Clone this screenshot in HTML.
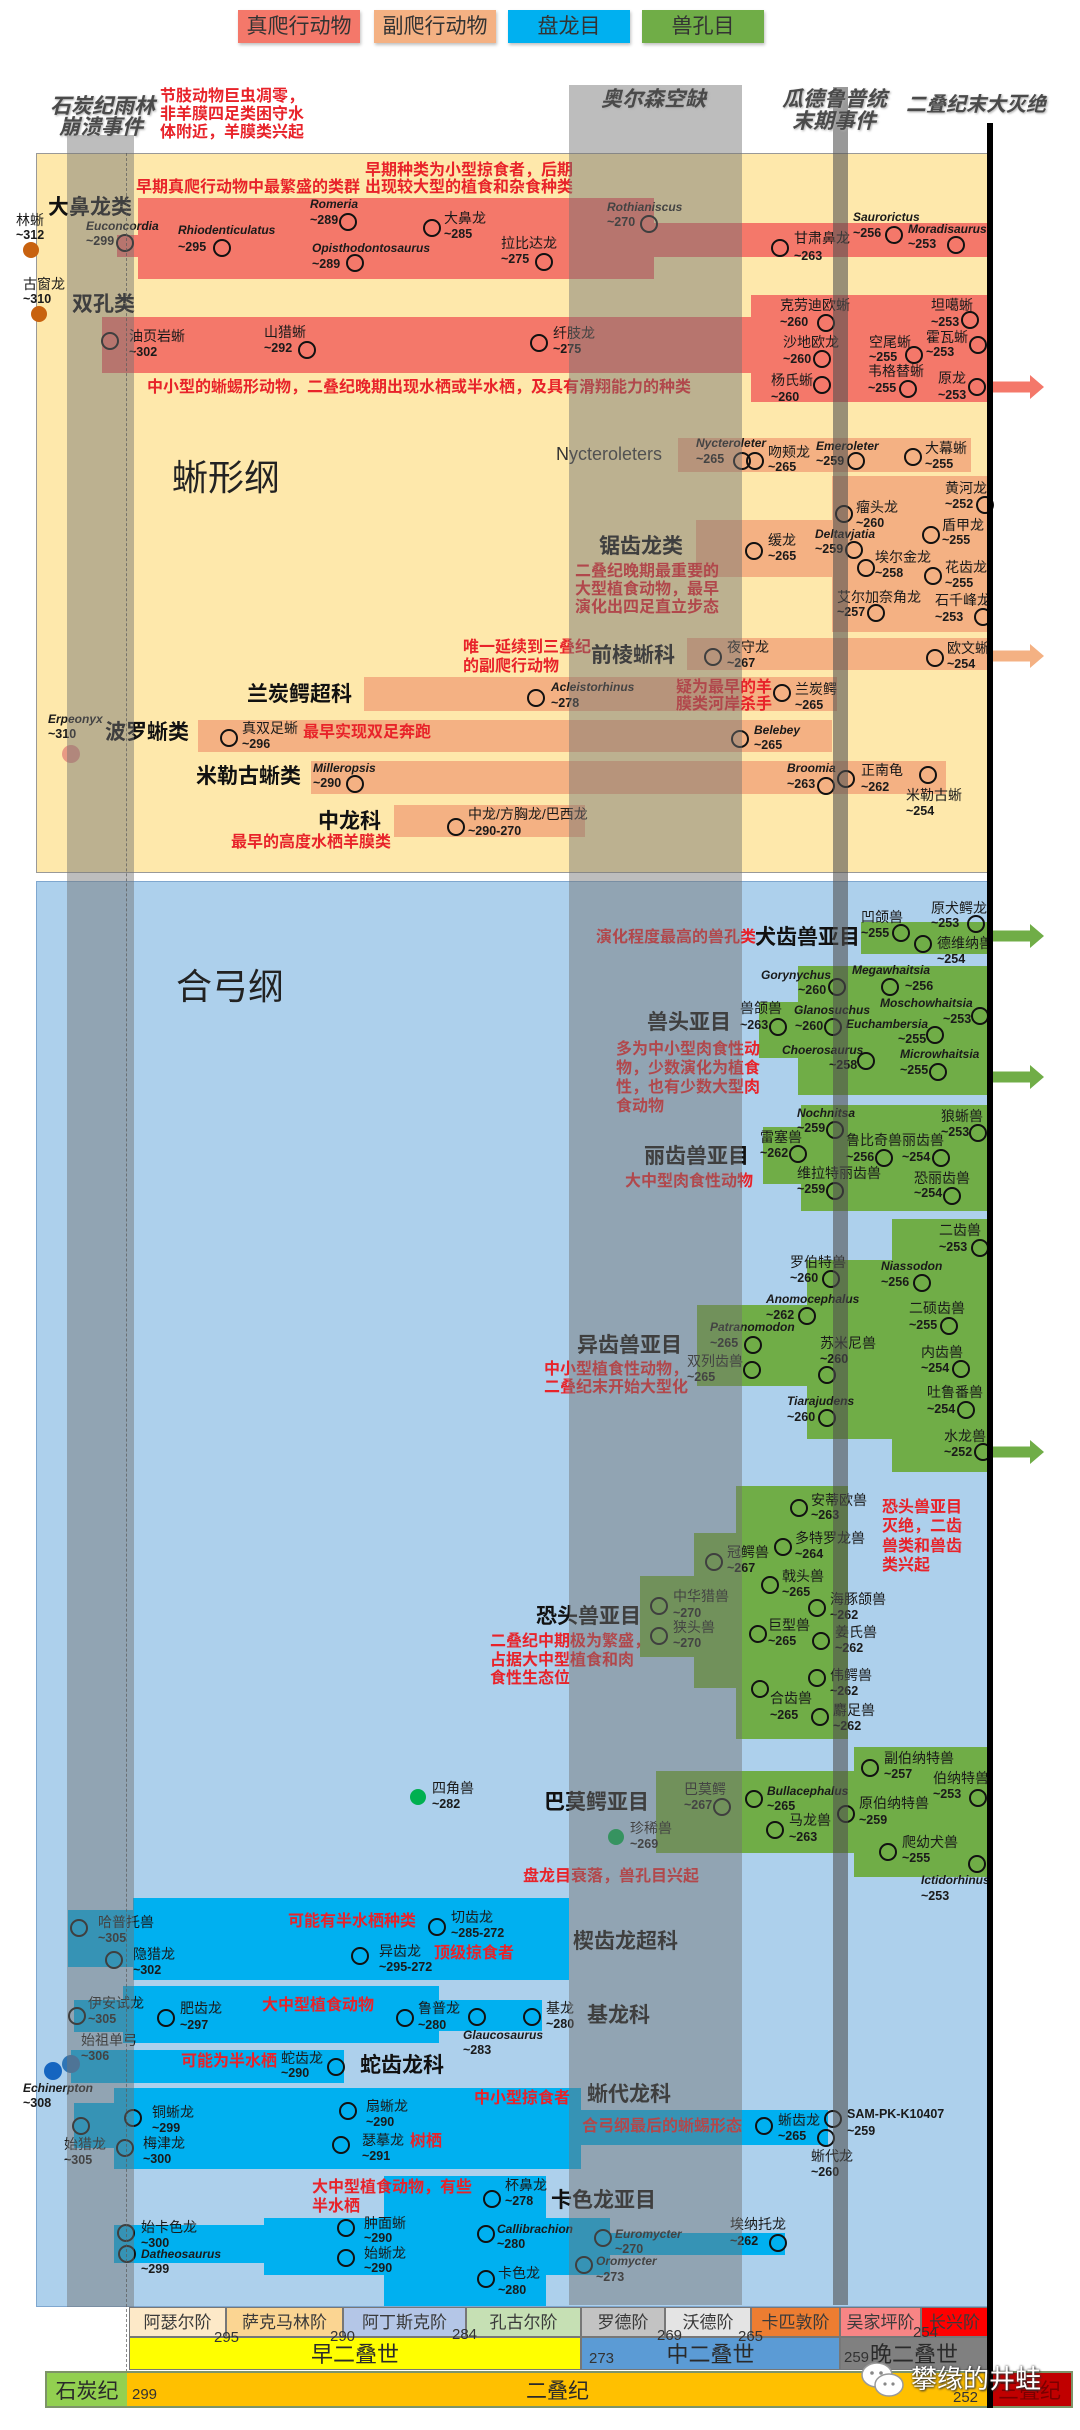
<!DOCTYPE html>
<html><head><meta charset="utf-8">
<style>
*{margin:0;padding:0}
html,body{width:1080px;height:2430px}
body{position:relative;background:#fff;font-family:"Liberation Sans","Noto Sans CJK SC",sans-serif;overflow:hidden}
.a{position:absolute}
.R{position:absolute;background:#f4786a}
.P{position:absolute;background:#f4b183}
.G{position:absolute;background:#70ad47}
.B{position:absolute;background:#00b0f0}
.t{position:absolute;font-size:14px;line-height:16px;white-space:nowrap;color:#1a1a1a}
.i{position:absolute;font-size:12px;line-height:14px;font-style:italic;font-weight:bold;white-space:nowrap;color:#1a1a1a}
.n{position:absolute;font-size:12.5px;line-height:14px;font-weight:bold;white-space:nowrap;color:#1a1a1a}
.c{position:absolute;width:18px;height:18px;border:2.6px solid #111;border-radius:50%;box-sizing:border-box}
.L{position:absolute;font-size:21px;line-height:24px;font-weight:bold;color:#111;white-space:nowrap}
.r{position:absolute;color:#e8232a;font-weight:bold;font-size:16px;line-height:18px;white-space:nowrap}
.ev{position:absolute;font-size:21px;line-height:22px;font-weight:bold;font-style:italic;color:#4a4a4a;text-shadow:1px 1px 2px #aaa;white-space:nowrap}
.dot{position:absolute;border-radius:50%}
.lg{position:absolute;top:10px;height:33px;width:122px;text-align:center;line-height:33px;font-size:21px;color:#333;box-shadow:1px 2px 3px rgba(0,0,0,.25)}
.st{position:absolute;top:2307px;height:30px;line-height:30px;text-align:center;font-size:17px;color:#3a3a3a;box-sizing:border-box;border:1px solid #777}
.ep{position:absolute;top:2337px;height:33px;line-height:33px;text-align:center;font-size:22px;color:#2a2a2a;box-sizing:border-box;border:1px solid #777}
.pe{position:absolute;top:2371px;height:37px;line-height:37px;text-align:center;font-size:21px;color:#2a2a2a;box-sizing:border-box;border-top:2px solid #7d9468;border-bottom:2px solid #7d9468}
.num{position:absolute;font-size:15px;color:#333;line-height:16px}
.band{position:absolute;background:rgba(115,115,115,0.47)}
</style></head><body>

<!-- Legend -->
<div class="lg" style="left:238px;background:#f4786a">真爬行动物</div>
<div class="lg" style="left:374px;background:#f4b183">副爬行动物</div>
<div class="lg" style="left:508px;background:#00b0f0">盘龙目</div>
<div class="lg" style="left:642px;background:#70ad47">兽孔目</div>

<!-- Panels -->
<div class="a" style="left:36px;top:153px;width:952px;height:720px;background:#fee8ab;border:1px solid #999;box-sizing:border-box"></div>
<div class="a" style="left:36px;top:881px;width:952px;height:1426px;background:#add0ec;border:1px solid #7fa7cf;box-sizing:border-box"></div>

<div class="a" style="left:172px;top:458px;font-size:36px;line-height:40px;color:#222">蜥形纲</div>
<div class="a" style="left:176px;top:967px;font-size:36px;line-height:40px;color:#222">合弓纲</div>

<!-- Sauropsid blocks -->
<div class="R" style="left:138px;top:198px;width:516px;height:81px"></div>
<div class="R" style="left:654px;top:223px;width:334px;height:34px"></div>
<div class="R" style="left:117px;top:235px;width:21px;height:22px"></div>
<div class="R" style="left:102px;top:317px;width:649px;height:56px"></div>
<div class="R" style="left:751px;top:295px;width:237px;height:107px"></div>
<svg class="a" style="left:988px;top:375px" width="56" height="24"><polygon points="0,6.5 42,6.5 42,0 56,12 42,24 42,17.5 0,17.5" fill="#f4786a"/></svg>

<div class="P" style="left:678px;top:438px;width:293px;height:34px"></div>
<div class="P" style="left:832px;top:476px;width:156px;height:156px"></div>
<div class="P" style="left:696px;top:520px;width:136px;height:57px"></div>
<div class="P" style="left:687px;top:638px;width:301px;height:32px"></div>
<svg class="a" style="left:988px;top:644px" width="56" height="24"><polygon points="0,6.5 42,6.5 42,0 56,12 42,24 42,17.5 0,17.5" fill="#f4b183"/></svg>
<div class="P" style="left:364px;top:677px;width:473px;height:34px"></div>
<div class="P" style="left:198px;top:720px;width:634px;height:32px"></div>
<div class="P" style="left:311px;top:761px;width:635px;height:33px"></div>
<div class="P" style="left:394px;top:805px;width:191px;height:32px"></div>

<!-- Synapsid green blocks -->
<div class="G" style="left:861px;top:922px;width:127px;height:32px"></div>
<div class="G" style="left:798px;top:966px;width:190px;height:129px"></div>
<div class="G" style="left:759px;top:1002px;width:39px;height:56px"></div>
<div class="G" style="left:801px;top:1105px;width:187px;height:106px"></div>
<div class="G" style="left:763px;top:1127px;width:38px;height:57px"></div>
<div class="G" style="left:892px;top:1219px;width:96px;height:253px"></div>
<div class="G" style="left:807px;top:1260px;width:85px;height:179px"></div>
<div class="G" style="left:697px;top:1305px;width:110px;height:81px"></div>
<div class="G" style="left:736px;top:1486px;width:112px;height:253px"></div>
<div class="G" style="left:694px;top:1533px;width:42px;height:155px"></div>
<div class="G" style="left:640px;top:1576px;width:54px;height:81px"></div>
<div class="G" style="left:854px;top:1747px;width:134px;height:130px"></div>
<div class="G" style="left:656px;top:1771px;width:198px;height:82px"></div>
<svg class="a" style="left:988px;top:924px" width="56" height="24"><polygon points="0,6.5 42,6.5 42,0 56,12 42,24 42,17.5 0,17.5" fill="#70ad47"/></svg>
<svg class="a" style="left:988px;top:1065px" width="56" height="24"><polygon points="0,6.5 42,6.5 42,0 56,12 42,24 42,17.5 0,17.5" fill="#70ad47"/></svg>
<svg class="a" style="left:988px;top:1440px" width="56" height="24"><polygon points="0,6.5 42,6.5 42,0 56,12 42,24 42,17.5 0,17.5" fill="#70ad47"/></svg>

<!-- Pelycosaur blue blocks -->
<div class="B" style="left:133px;top:1898px;width:436px;height:82px"></div>
<div class="B" style="left:68px;top:1910px;width:65px;height:57px"></div>
<div class="B" style="left:123px;top:1986px;width:316px;height:57px"></div>
<div class="B" style="left:74px;top:2000px;width:49px;height:32px"></div>
<div class="B" style="left:439px;top:2000px;width:103px;height:31px"></div>
<div class="B" style="left:71px;top:2050px;width:273px;height:33px"></div>
<div class="B" style="left:114px;top:2088px;width:467px;height:81px"></div>
<div class="B" style="left:74px;top:2103px;width:40px;height:45px"></div>
<div class="B" style="left:581px;top:2110px;width:247px;height:35px"></div>
<div class="B" style="left:114px;top:2225px;width:150px;height:38px"></div>
<div class="B" style="left:264px;top:2218px;width:120px;height:57px"></div>
<div class="B" style="left:384px;top:2176px;width:162px;height:130px"></div>
<div class="B" style="left:546px;top:2218px;width:64px;height:57px"></div>
<div class="B" style="left:610px;top:2233px;width:175px;height:22px"></div>

<!-- Group labels -->
<div class="L" style="left:48px;top:196px">大鼻龙类</div>
<div class="L" style="left:72px;top:293px">双孔类</div>
<div class="a" style="left:556px;top:443px;font-size:18px;line-height:22px;color:#333">Nycteroleters</div>
<div class="L" style="left:599px;top:535px">锯齿龙类</div>
<div class="L" style="left:591px;top:644px">前棱蜥科</div>
<div class="L" style="left:247px;top:683px">兰炭鳄超科</div>
<div class="L" style="left:105px;top:721px">波罗蜥类</div>
<div class="L" style="left:196px;top:765px">米勒古蜥类</div>
<div class="L" style="left:318px;top:810px">中龙科</div>
<div class="L" style="left:755px;top:926px">犬齿兽亚目</div>
<div class="L" style="left:647px;top:1011px">兽头亚目</div>
<div class="L" style="left:644px;top:1145px">丽齿兽亚目</div>
<div class="L" style="left:577px;top:1334px">异齿兽亚目</div>
<div class="L" style="left:536px;top:1605px">恐头兽亚目</div>
<div class="L" style="left:544px;top:1791px">巴莫鳄亚目</div>
<div class="L" style="left:573px;top:1930px">楔齿龙超科</div>
<div class="L" style="left:587px;top:2004px">基龙科</div>
<div class="L" style="left:360px;top:2054px">蛇齿龙科</div>
<div class="L" style="left:587px;top:2083px">蜥代龙科</div>
<div class="L" style="left:551px;top:2189px">卡色龙亚目</div>

<!-- Red annotations -->
<div class="r" style="left:160px;top:88px">节肢动物巨虫凋零，</div>
<div class="r" style="left:160px;top:106px">非羊膜四足类困守水</div>
<div class="r" style="left:160px;top:124px">体附近，羊膜类兴起</div>
<div class="r" style="left:136px;top:179px">早期真爬行动物中最繁盛的类群</div>
<div class="r" style="left:365px;top:162px">早期种类为小型掠食者，后期</div>
<div class="r" style="left:365px;top:179px">出现较大型的植食和杂食种类</div>
<div class="r" style="left:147px;top:379px">中小型的蜥蜴形动物，二叠纪晚期出现水栖或半水栖，及具有滑翔能力的种类</div>
<div class="r" style="left:575px;top:563px">二叠纪晚期最重要的</div>
<div class="r" style="left:575px;top:581px">大型植食动物，最早</div>
<div class="r" style="left:575px;top:599px">演化出四足直立步态</div>
<div class="r" style="left:463px;top:639px">唯一延续到三叠纪</div>
<div class="r" style="left:463px;top:658px">的副爬行动物</div>
<div class="r" style="left:676px;top:679px">疑为最早的羊</div>
<div class="r" style="left:676px;top:696px">膜类河岸杀手</div>
<div class="r" style="left:303px;top:724px">最早实现双足奔跑</div>
<div class="r" style="left:231px;top:834px">最早的高度水栖羊膜类</div>
<div class="r" style="left:596px;top:929px">演化程度最高的兽孔类</div>
<div class="r" style="left:616px;top:1041px">多为中小型肉食性动</div>
<div class="r" style="left:616px;top:1060px">物，少数演化为植食</div>
<div class="r" style="left:616px;top:1079px">性，也有少数大型肉</div>
<div class="r" style="left:616px;top:1098px">食动物</div>
<div class="r" style="left:625px;top:1173px">大中型肉食性动物</div>
<div class="r" style="left:544px;top:1361px">中小型植食性动物，</div>
<div class="r" style="left:544px;top:1379px">二叠纪末开始大型化</div>
<div class="r" style="left:882px;top:1499px">恐头兽亚目</div>
<div class="r" style="left:882px;top:1518px">灭绝，二齿</div>
<div class="r" style="left:882px;top:1538px">兽类和兽齿</div>
<div class="r" style="left:882px;top:1557px">类兴起</div>
<div class="r" style="left:490px;top:1633px">二叠纪中期极为繁盛，</div>
<div class="r" style="left:490px;top:1652px">占据大中型植食和肉</div>
<div class="r" style="left:490px;top:1670px">食性生态位</div>
<div class="r" style="left:523px;top:1868px">盘龙目衰落，兽孔目兴起</div>
<div class="r" style="left:288px;top:1913px">可能有半水栖种类</div>
<div class="r" style="left:434px;top:1945px">顶级掠食者</div>
<div class="r" style="left:262px;top:1997px">大中型植食动物</div>
<div class="r" style="left:181px;top:2053px">可能为半水栖</div>
<div class="r" style="left:474px;top:2090px">中小型掠食者</div>
<div class="r" style="left:582px;top:2118px">合弓纲最后的蜥蜴形态</div>
<div class="r" style="left:410px;top:2133px">树栖</div>
<div class="r" style="left:312px;top:2179px">大中型植食动物，有些</div>
<div class="r" style="left:312px;top:2198px">半水栖</div>

<!-- Early dots -->
<div class="t" style="left:16px;top:212px">林蜥</div><div class="n" style="left:16px;top:228px">~312</div>
<div class="dot" style="left:23px;top:242px;width:16px;height:16px;background:#c8620f"></div>
<div class="t" style="left:23px;top:276px">古窗龙</div><div class="n" style="left:23px;top:292px">~310</div>
<div class="dot" style="left:31px;top:306px;width:16px;height:16px;background:#c8620f"></div>

<!-- Sauropsid species -->
<div class="i" style="left:86px;top:219px">Euconcordia</div><div class="n" style="left:86px;top:234px">~299</div><div class="c" style="left:116px;top:234px"></div>
<div class="i" style="left:178px;top:223px">Rhiodenticulatus</div><div class="n" style="left:178px;top:240px">~295</div><div class="c" style="left:213px;top:239px"></div>
<div class="i" style="left:310px;top:197px">Romeria</div><div class="n" style="left:310px;top:213px">~289</div><div class="c" style="left:339px;top:213px"></div>
<div class="t" style="left:444px;top:210px">大鼻龙</div><div class="n" style="left:444px;top:227px">~285</div><div class="c" style="left:423px;top:219px"></div>
<div class="i" style="left:312px;top:241px">Opisthodontosaurus</div><div class="n" style="left:312px;top:257px">~289</div><div class="c" style="left:346px;top:254px"></div>
<div class="t" style="left:501px;top:235px">拉比达龙</div><div class="n" style="left:501px;top:252px">~275</div><div class="c" style="left:535px;top:253px"></div>
<div class="i" style="left:607px;top:200px">Rothianiscus</div><div class="n" style="left:607px;top:215px">~270</div><div class="c" style="left:640px;top:215px"></div>
<div class="t" style="left:794px;top:230px">甘肃鼻龙</div><div class="n" style="left:794px;top:249px">~263</div><div class="c" style="left:771px;top:239px"></div>
<div class="i" style="left:853px;top:210px">Saurorictus</div><div class="n" style="left:853px;top:226px">~256</div><div class="c" style="left:885px;top:226px"></div>
<div class="i" style="left:908px;top:222px">Moradisaurus</div><div class="n" style="left:908px;top:237px">~253</div><div class="c" style="left:947px;top:236px"></div>
<div class="t" style="left:129px;top:328px">油页岩蜥</div><div class="n" style="left:129px;top:345px">~302</div><div class="c" style="left:101px;top:332px"></div>
<div class="t" style="left:264px;top:324px">山猎蜥</div><div class="n" style="left:264px;top:341px">~292</div><div class="c" style="left:298px;top:341px"></div>
<div class="t" style="left:553px;top:325px">纤肢龙</div><div class="n" style="left:553px;top:342px">~275</div><div class="c" style="left:530px;top:334px"></div>
<div class="t" style="left:780px;top:297px">克劳迪欧蜥</div><div class="n" style="left:780px;top:315px">~260</div><div class="c" style="left:817px;top:314px"></div>
<div class="t" style="left:783px;top:334px">沙地欧龙</div><div class="n" style="left:783px;top:352px">~260</div><div class="c" style="left:813px;top:350px"></div>
<div class="t" style="left:771px;top:372px">杨氏蜥</div><div class="n" style="left:771px;top:390px">~260</div><div class="c" style="left:813px;top:376px"></div>
<div class="t" style="left:931px;top:297px">坦噶蜥</div><div class="n" style="left:931px;top:315px">~253</div><div class="c" style="left:961px;top:311px"></div>
<div class="t" style="left:869px;top:334px">空尾蜥</div><div class="n" style="left:869px;top:350px">~255</div><div class="c" style="left:905px;top:346px"></div>
<div class="t" style="left:926px;top:329px">霍瓦蜥</div><div class="n" style="left:926px;top:345px">~253</div><div class="c" style="left:969px;top:336px"></div>
<div class="t" style="left:868px;top:363px">韦格替蜥</div><div class="n" style="left:868px;top:381px">~255</div><div class="c" style="left:899px;top:380px"></div>
<div class="t" style="left:938px;top:370px">原龙</div><div class="n" style="left:938px;top:388px">~253</div><div class="c" style="left:968px;top:378px"></div>

<div class="i" style="left:696px;top:436px">Nycteroleter</div><div class="n" style="left:696px;top:452px">~265</div><div class="c" style="left:733px;top:452px"></div><div class="c" style="left:746px;top:452px"></div>
<div class="t" style="left:768px;top:444px">吻颊龙</div><div class="n" style="left:768px;top:460px">~265</div>
<div class="i" style="left:816px;top:439px">Emeroleter</div><div class="n" style="left:816px;top:454px">~259</div><div class="c" style="left:847px;top:452px"></div>
<div class="t" style="left:925px;top:440px">大幕蜥</div><div class="n" style="left:925px;top:457px">~255</div><div class="c" style="left:904px;top:448px"></div>
<div class="t" style="left:856px;top:499px">瘤头龙</div><div class="n" style="left:856px;top:516px">~260</div><div class="c" style="left:835px;top:505px"></div>
<div class="t" style="left:945px;top:480px">黄河龙</div><div class="n" style="left:945px;top:497px">~252</div><div class="c" style="left:976px;top:496px"></div>
<div class="t" style="left:768px;top:532px">缓龙</div><div class="n" style="left:768px;top:549px">~265</div><div class="c" style="left:745px;top:542px"></div>
<div class="i" style="left:815px;top:527px">Deltavjatia</div><div class="n" style="left:815px;top:542px">~259</div><div class="c" style="left:845px;top:541px"></div>
<div class="t" style="left:942px;top:517px">盾甲龙</div><div class="n" style="left:942px;top:533px">~255</div><div class="c" style="left:922px;top:526px"></div>
<div class="t" style="left:875px;top:549px">埃尔金龙</div><div class="n" style="left:875px;top:566px">~258</div><div class="c" style="left:857px;top:559px"></div>
<div class="t" style="left:945px;top:559px">花齿龙</div><div class="n" style="left:945px;top:576px">~255</div><div class="c" style="left:924px;top:567px"></div>
<div class="t" style="left:837px;top:589px">艾尔加奈角龙</div><div class="n" style="left:837px;top:605px">~257</div><div class="c" style="left:867px;top:604px"></div>
<div class="t" style="left:935px;top:592px">石千峰龙</div><div class="n" style="left:935px;top:610px">~253</div><div class="c" style="left:974px;top:608px"></div>
<div class="t" style="left:727px;top:639px">夜守龙</div><div class="n" style="left:727px;top:656px">~267</div><div class="c" style="left:704px;top:648px"></div>
<div class="t" style="left:947px;top:640px">欧文蜥</div><div class="n" style="left:947px;top:657px">~254</div><div class="c" style="left:926px;top:649px"></div>
<div class="i" style="left:551px;top:680px">Acleistorhinus</div><div class="n" style="left:551px;top:696px">~278</div><div class="c" style="left:527px;top:689px"></div>
<div class="t" style="left:795px;top:681px">兰炭鳄</div><div class="n" style="left:795px;top:698px">~265</div><div class="c" style="left:773px;top:684px"></div>
<div class="i" style="left:48px;top:712px">Erpeonyx</div><div class="n" style="left:48px;top:727px">~310</div>
<div class="dot" style="left:62px;top:745px;width:18px;height:18px;background:#e89a84"></div>
<div class="t" style="left:242px;top:720px">真双足蜥</div><div class="n" style="left:242px;top:737px">~296</div><div class="c" style="left:220px;top:729px"></div>
<div class="i" style="left:754px;top:723px">Belebey</div><div class="n" style="left:754px;top:738px">~265</div><div class="c" style="left:731px;top:730px"></div>
<div class="i" style="left:313px;top:761px">Milleropsis</div><div class="n" style="left:313px;top:776px">~290</div><div class="c" style="left:346px;top:775px"></div>
<div class="i" style="left:787px;top:761px">Broomia</div><div class="n" style="left:787px;top:777px">~263</div><div class="c" style="left:817px;top:777px"></div>
<div class="t" style="left:861px;top:762px">正南龟</div><div class="n" style="left:861px;top:780px">~262</div><div class="c" style="left:837px;top:770px"></div>
<div class="t" style="left:906px;top:787px">米勒古蜥</div><div class="n" style="left:906px;top:804px">~254</div><div class="c" style="left:919px;top:766px"></div>
<div class="t" style="left:468px;top:806px">中龙/方胸龙/巴西龙</div><div class="n" style="left:468px;top:824px">~290-270</div><div class="c" style="left:447px;top:818px"></div>

<!-- Therapsid species -->
<div class="t" style="left:861px;top:909px">凹颌兽</div><div class="n" style="left:861px;top:926px">~255</div><div class="c" style="left:892px;top:924px"></div>
<div class="t" style="left:931px;top:900px">原犬鳄龙</div><div class="n" style="left:931px;top:916px">~253</div><div class="c" style="left:967px;top:915px"></div>
<div class="t" style="left:937px;top:935px">德维纳兽</div><div class="n" style="left:937px;top:952px">~254</div><div class="c" style="left:914px;top:935px"></div>
<div class="i" style="left:761px;top:968px">Gorynychus</div><div class="n" style="left:798px;top:983px">~260</div><div class="c" style="left:828px;top:978px"></div>
<div class="i" style="left:852px;top:963px">Megawhaitsia</div><div class="n" style="left:905px;top:979px">~256</div><div class="c" style="left:881px;top:978px"></div>
<div class="t" style="left:740px;top:1000px">兽颌兽</div><div class="n" style="left:740px;top:1018px">~263</div><div class="c" style="left:769px;top:1018px"></div>
<div class="i" style="left:794px;top:1003px">Glanosuchus</div><div class="n" style="left:795px;top:1019px">~260</div><div class="c" style="left:824px;top:1018px"></div>
<div class="i" style="left:880px;top:996px">Moschowhaitsia</div><div class="n" style="left:943px;top:1012px">~253</div><div class="c" style="left:971px;top:1007px"></div>
<div class="i" style="left:846px;top:1017px">Euchambersia</div><div class="n" style="left:898px;top:1032px">~255</div><div class="c" style="left:926px;top:1026px"></div>
<div class="i" style="left:782px;top:1043px">Choerosaurus</div><div class="n" style="left:829px;top:1058px">~258</div><div class="c" style="left:857px;top:1052px"></div>
<div class="i" style="left:900px;top:1047px">Microwhaitsia</div><div class="n" style="left:900px;top:1063px">~255</div><div class="c" style="left:929px;top:1063px"></div>
<div class="i" style="left:797px;top:1106px">Nochnitsa</div><div class="n" style="left:797px;top:1121px">~259</div><div class="c" style="left:826px;top:1121px"></div>
<div class="t" style="left:941px;top:1108px">狼蜥兽</div><div class="n" style="left:941px;top:1125px">~253</div><div class="c" style="left:969px;top:1124px"></div>
<div class="t" style="left:760px;top:1129px">雷塞兽</div><div class="n" style="left:760px;top:1146px">~262</div><div class="c" style="left:789px;top:1145px"></div>
<div class="t" style="left:846px;top:1132px">鲁比奇兽</div><div class="n" style="left:846px;top:1150px">~256</div><div class="c" style="left:875px;top:1149px"></div>
<div class="t" style="left:902px;top:1132px">丽齿兽</div><div class="n" style="left:902px;top:1150px">~254</div><div class="c" style="left:932px;top:1149px"></div>
<div class="t" style="left:797px;top:1165px">维拉特丽齿兽</div><div class="n" style="left:797px;top:1182px">~259</div><div class="c" style="left:826px;top:1182px"></div>
<div class="t" style="left:914px;top:1170px">恐丽齿兽</div><div class="n" style="left:914px;top:1186px">~254</div><div class="c" style="left:943px;top:1187px"></div>
<div class="t" style="left:790px;top:1254px">罗伯特兽</div><div class="n" style="left:790px;top:1271px">~260</div><div class="c" style="left:822px;top:1270px"></div>
<div class="t" style="left:939px;top:1222px">二齿兽</div><div class="n" style="left:939px;top:1240px">~253</div><div class="c" style="left:971px;top:1239px"></div>
<div class="i" style="left:881px;top:1259px">Niassodon</div><div class="n" style="left:881px;top:1275px">~256</div><div class="c" style="left:913px;top:1274px"></div>
<div class="i" style="left:766px;top:1292px">Anomocephalus</div><div class="n" style="left:766px;top:1308px">~262</div><div class="c" style="left:798px;top:1307px"></div>
<div class="t" style="left:909px;top:1300px">二硕齿兽</div><div class="n" style="left:909px;top:1318px">~255</div><div class="c" style="left:940px;top:1317px"></div>
<div class="i" style="left:710px;top:1320px">Patranomodon</div><div class="n" style="left:710px;top:1336px">~265</div><div class="c" style="left:744px;top:1336px"></div>
<div class="t" style="left:820px;top:1335px">苏米尼兽</div><div class="n" style="left:820px;top:1352px">~260</div><div class="c" style="left:818px;top:1366px"></div>
<div class="t" style="left:921px;top:1344px">内齿兽</div><div class="n" style="left:921px;top:1361px">~254</div><div class="c" style="left:952px;top:1360px"></div>
<div class="t" style="left:687px;top:1353px">双列齿兽</div><div class="n" style="left:687px;top:1370px">~265</div><div class="c" style="left:743px;top:1361px"></div>
<div class="i" style="left:787px;top:1394px">Tiarajudens</div><div class="n" style="left:787px;top:1410px">~260</div><div class="c" style="left:818px;top:1409px"></div>
<div class="t" style="left:927px;top:1384px">吐鲁番兽</div><div class="n" style="left:927px;top:1402px">~254</div><div class="c" style="left:957px;top:1401px"></div>
<div class="t" style="left:944px;top:1428px">水龙兽</div><div class="n" style="left:944px;top:1445px">~252</div><div class="c" style="left:974px;top:1443px"></div>
<div class="t" style="left:811px;top:1492px">安蒂欧兽</div><div class="n" style="left:811px;top:1508px">~263</div><div class="c" style="left:790px;top:1499px"></div>
<div class="t" style="left:795px;top:1530px">多特罗龙兽</div><div class="n" style="left:795px;top:1547px">~264</div><div class="c" style="left:774px;top:1538px"></div>
<div class="t" style="left:727px;top:1544px">冠鳄兽</div><div class="n" style="left:727px;top:1561px">~267</div><div class="c" style="left:705px;top:1553px"></div>
<div class="t" style="left:782px;top:1568px">戟头兽</div><div class="n" style="left:782px;top:1585px">~265</div><div class="c" style="left:761px;top:1576px"></div>
<div class="t" style="left:673px;top:1588px">中华猎兽</div><div class="n" style="left:673px;top:1606px">~270</div><div class="c" style="left:650px;top:1597px"></div>
<div class="t" style="left:830px;top:1591px">海豚颌兽</div><div class="n" style="left:830px;top:1608px">~262</div><div class="c" style="left:808px;top:1599px"></div>
<div class="t" style="left:673px;top:1619px">狭头兽</div><div class="n" style="left:673px;top:1636px">~270</div><div class="c" style="left:650px;top:1627px"></div>
<div class="t" style="left:768px;top:1617px">巨型兽</div><div class="n" style="left:768px;top:1634px">~265</div><div class="c" style="left:749px;top:1625px"></div>
<div class="t" style="left:835px;top:1624px">姜氏兽</div><div class="n" style="left:835px;top:1641px">~262</div><div class="c" style="left:812px;top:1632px"></div>
<div class="t" style="left:830px;top:1667px">伟鳄兽</div><div class="n" style="left:830px;top:1684px">~262</div><div class="c" style="left:808px;top:1669px"></div>
<div class="t" style="left:770px;top:1690px">合齿兽</div><div class="n" style="left:770px;top:1708px">~265</div><div class="c" style="left:751px;top:1680px"></div>
<div class="t" style="left:833px;top:1702px">麝足兽</div><div class="n" style="left:833px;top:1719px">~262</div><div class="c" style="left:811px;top:1708px"></div>
<div class="t" style="left:684px;top:1781px">巴莫鳄</div><div class="n" style="left:684px;top:1798px">~267</div><div class="c" style="left:713px;top:1798px"></div>
<div class="i" style="left:767px;top:1784px">Bullacephalus</div><div class="n" style="left:767px;top:1799px">~265</div><div class="c" style="left:745px;top:1790px"></div>
<div class="t" style="left:789px;top:1812px">马龙兽</div><div class="n" style="left:789px;top:1830px">~263</div><div class="c" style="left:766px;top:1821px"></div>
<div class="t" style="left:859px;top:1795px">原伯纳特兽</div><div class="n" style="left:859px;top:1813px">~259</div><div class="c" style="left:837px;top:1805px"></div>
<div class="t" style="left:933px;top:1770px">伯纳特兽</div><div class="n" style="left:933px;top:1787px">~253</div><div class="c" style="left:969px;top:1789px"></div>
<div class="t" style="left:884px;top:1750px">副伯纳特兽</div><div class="n" style="left:884px;top:1767px">~257</div><div class="c" style="left:861px;top:1759px"></div>
<div class="t" style="left:902px;top:1834px">爬幼犬兽</div><div class="n" style="left:902px;top:1851px">~255</div><div class="c" style="left:879px;top:1843px"></div>
<div class="i" style="left:921px;top:1873px">Ictidorhinus</div><div class="n" style="left:921px;top:1889px">~253</div><div class="c" style="left:968px;top:1855px"></div>
<div class="t" style="left:630px;top:1820px">珍稀兽</div><div class="n" style="left:630px;top:1837px">~269</div>
<div class="dot" style="left:608px;top:1829px;width:16px;height:16px;background:#00b050"></div>
<div class="t" style="left:432px;top:1780px">四角兽</div><div class="n" style="left:432px;top:1797px">~282</div>
<div class="dot" style="left:410px;top:1789px;width:16px;height:16px;background:#00b050"></div>

<!-- Pelycosaur species -->
<div class="t" style="left:98px;top:1914px">哈普托兽</div><div class="n" style="left:98px;top:1931px">~305</div><div class="c" style="left:70px;top:1919px"></div>
<div class="t" style="left:133px;top:1946px">隐猎龙</div><div class="n" style="left:133px;top:1963px">~302</div><div class="c" style="left:105px;top:1951px"></div>
<div class="t" style="left:451px;top:1909px">切齿龙</div><div class="n" style="left:451px;top:1926px">~285-272</div><div class="c" style="left:428px;top:1918px"></div>
<div class="t" style="left:379px;top:1943px">异齿龙</div><div class="n" style="left:379px;top:1960px">~295-272</div><div class="c" style="left:351px;top:1947px"></div>
<div class="t" style="left:88px;top:1995px">伊安试龙</div><div class="n" style="left:88px;top:2012px">~305</div><div class="c" style="left:68px;top:2007px"></div>
<div class="t" style="left:180px;top:2000px">肥齿龙</div><div class="n" style="left:180px;top:2018px">~297</div><div class="c" style="left:157px;top:2009px"></div>
<div class="t" style="left:418px;top:2000px">鲁普龙</div><div class="n" style="left:418px;top:2018px">~280</div><div class="c" style="left:396px;top:2009px"></div>
<div class="i" style="left:463px;top:2028px">Glaucosaurus</div><div class="n" style="left:463px;top:2043px">~283</div><div class="c" style="left:468px;top:2008px"></div>
<div class="t" style="left:546px;top:2000px">基龙</div><div class="n" style="left:546px;top:2017px">~280</div><div class="c" style="left:523px;top:2008px"></div>
<div class="t" style="left:281px;top:2050px">蛇齿龙</div><div class="n" style="left:281px;top:2066px">~290</div><div class="c" style="left:327px;top:2058px"></div>
<div class="t" style="left:81px;top:2032px">始祖单弓</div><div class="n" style="left:81px;top:2049px">~306</div>
<div class="dot" style="left:44px;top:2062px;width:18px;height:18px;background:#1565c0"></div>
<div class="dot" style="left:62px;top:2055px;width:18px;height:18px;background:#2e75b6"></div>
<div class="i" style="left:23px;top:2081px">Echinerpton</div><div class="n" style="left:23px;top:2096px">~308</div>
<div class="t" style="left:152px;top:2104px">铜蜥龙</div><div class="n" style="left:152px;top:2121px">~299</div><div class="c" style="left:124px;top:2109px"></div>
<div class="t" style="left:64px;top:2136px">始猎龙</div><div class="n" style="left:64px;top:2153px">~305</div><div class="c" style="left:72px;top:2117px"></div>
<div class="t" style="left:143px;top:2135px">梅津龙</div><div class="n" style="left:143px;top:2152px">~300</div><div class="c" style="left:116px;top:2139px"></div>
<div class="t" style="left:366px;top:2098px">扇蜥龙</div><div class="n" style="left:366px;top:2115px">~290</div><div class="c" style="left:339px;top:2102px"></div>
<div class="t" style="left:362px;top:2132px">瑟摹龙</div><div class="n" style="left:362px;top:2149px">~291</div><div class="c" style="left:332px;top:2136px"></div>
<div class="t" style="left:778px;top:2112px">蜥齿龙</div><div class="n" style="left:778px;top:2129px">~265</div><div class="c" style="left:755px;top:2117px"></div>
<div class="n" style="left:847px;top:2107px">SAM-PK-K10407</div><div class="n" style="left:847px;top:2124px">~259</div><div class="c" style="left:824px;top:2110px"></div>
<div class="t" style="left:811px;top:2148px">蜥代龙</div><div class="n" style="left:811px;top:2165px">~260</div><div class="c" style="left:817px;top:2129px"></div>
<div class="t" style="left:505px;top:2177px">杯鼻龙</div><div class="n" style="left:505px;top:2194px">~278</div><div class="c" style="left:483px;top:2190px"></div>
<div class="t" style="left:141px;top:2219px">始卡色龙</div><div class="n" style="left:141px;top:2236px">~300</div><div class="c" style="left:117px;top:2224px"></div>
<div class="i" style="left:141px;top:2247px">Datheosaurus</div><div class="n" style="left:141px;top:2262px">~299</div><div class="c" style="left:118px;top:2245px"></div>
<div class="t" style="left:364px;top:2215px">肿面蜥</div><div class="n" style="left:364px;top:2231px">~290</div><div class="c" style="left:337px;top:2219px"></div>
<div class="t" style="left:364px;top:2245px">始蜥龙</div><div class="n" style="left:364px;top:2261px">~290</div><div class="c" style="left:337px;top:2249px"></div>
<div class="i" style="left:497px;top:2222px">Callibrachion</div><div class="n" style="left:497px;top:2237px">~280</div><div class="c" style="left:477px;top:2225px"></div>
<div class="t" style="left:498px;top:2265px">卡色龙</div><div class="n" style="left:498px;top:2283px">~280</div><div class="c" style="left:477px;top:2270px"></div>
<div class="i" style="left:615px;top:2227px">Euromycter</div><div class="n" style="left:615px;top:2242px">~270</div><div class="c" style="left:594px;top:2229px"></div>
<div class="i" style="left:596px;top:2254px">Oromycter</div><div class="n" style="left:596px;top:2270px">~273</div><div class="c" style="left:575px;top:2256px"></div>
<div class="t" style="left:730px;top:2216px">埃纳托龙</div><div class="n" style="left:730px;top:2234px">~262</div><div class="c" style="left:769px;top:2234px"></div>

<!-- Event bands (overlay) -->
<div class="band" style="left:67px;top:135px;width:67px;height:2172px"></div>
<div class="band" style="left:569px;top:85px;width:173px;height:2220px"></div>
<div class="a" style="left:833px;top:87px;width:15px;height:2218px;background:rgba(80,80,80,0.58)"></div>
<div class="a" style="left:126px;top:153px;width:0;height:2219px;border-left:1px dashed rgba(90,90,90,0.7)"></div>

<!-- Event labels -->
<div class="ev" style="left:50px;top:96px">石炭纪雨林</div>
<div class="ev" style="left:59px;top:117px">崩溃事件</div>
<div class="ev" style="left:601px;top:89px">奥尔森空缺</div>
<div class="ev" style="left:782px;top:89px">瓜德鲁普统</div>
<div class="ev" style="left:792px;top:111px">末期事件</div>
<div class="ev" style="left:906px;top:94px;font-size:20px">二叠纪末大灭绝</div>

<!-- Timescale -->
<div class="st" style="left:129px;width:97px;background:#fde9c8">阿瑟尔阶</div>
<div class="st" style="left:226px;width:117px;background:#fbd592">萨克马林阶</div>
<div class="st" style="left:343px;width:123px;background:#b4c6e7">阿丁斯克阶</div>
<div class="st" style="left:466px;width:115px;background:#c6e0b4">孔古尔阶</div>
<div class="st" style="left:581px;width:84px;background:#c3c3c3">罗德阶</div>
<div class="st" style="left:665px;width:86px;background:#e4e4e4">沃德阶</div>
<div class="st" style="left:751px;width:89px;background:#ed7d31">卡匹敦阶</div>
<div class="st" style="left:840px;width:81px;background:#f88585">吴家坪阶</div>
<div class="st" style="left:921px;width:67px;background:#ff0000">长兴阶</div>
<div class="ep" style="left:129px;width:452px;background:#ffff00">早二叠世</div>
<div class="ep" style="left:581px;width:259px;background:#5b9bd5">中二叠世</div>
<div class="ep" style="left:840px;width:148px;background:#808080">晚二叠世</div>
<div class="pe" style="left:45px;width:82px;background:#92d050;border-left:2px solid #7d9468">石炭纪</div>
<div class="pe" style="left:127px;width:861px;background:#ffc000">二叠纪</div>
<div class="pe" style="left:988px;width:85px;background:#c00000;color:#7a0000;border-right:2px solid #7d9468">三叠纪</div>
<div class="num" style="left:214px;top:2330px">295</div>
<div class="num" style="left:330px;top:2329px">290</div>
<div class="num" style="left:452px;top:2327px">284</div>
<div class="num" style="left:657px;top:2328px">269</div>
<div class="num" style="left:738px;top:2329px">265</div>
<div class="num" style="left:913px;top:2325px">254</div>
<div class="num" style="left:589px;top:2351px">273</div>
<div class="num" style="left:844px;top:2350px">259</div>
<div class="num" style="left:132px;top:2387px">299</div>
<div class="num" style="left:953px;top:2390px">252</div>

<!-- Black extinction line -->
<div class="a" style="left:987px;top:123px;width:6px;height:2285px;background:#000"></div>

<!-- Watermark -->
<svg class="a" style="left:860px;top:2360px" width="46" height="40">
<ellipse cx="17" cy="15" rx="15" ry="12" fill="#fff" stroke="#999" stroke-width="1.5"/>
<circle cx="12" cy="13" r="1.8" fill="#888"/><circle cx="21" cy="13" r="1.8" fill="#888"/>
<ellipse cx="29" cy="25" rx="14" ry="11" fill="#fff" stroke="#999" stroke-width="1.5"/>
<circle cx="25" cy="24" r="1.6" fill="#888"/><circle cx="33" cy="24" r="1.6" fill="#888"/>
</svg>
<div class="a" style="left:911px;top:2364px;font-size:26px;line-height:30px;color:#fff;text-shadow:0 0 2px #333,1px 1px 2px #333;white-space:nowrap">攀缘的井蛙</div>

</body></html>
